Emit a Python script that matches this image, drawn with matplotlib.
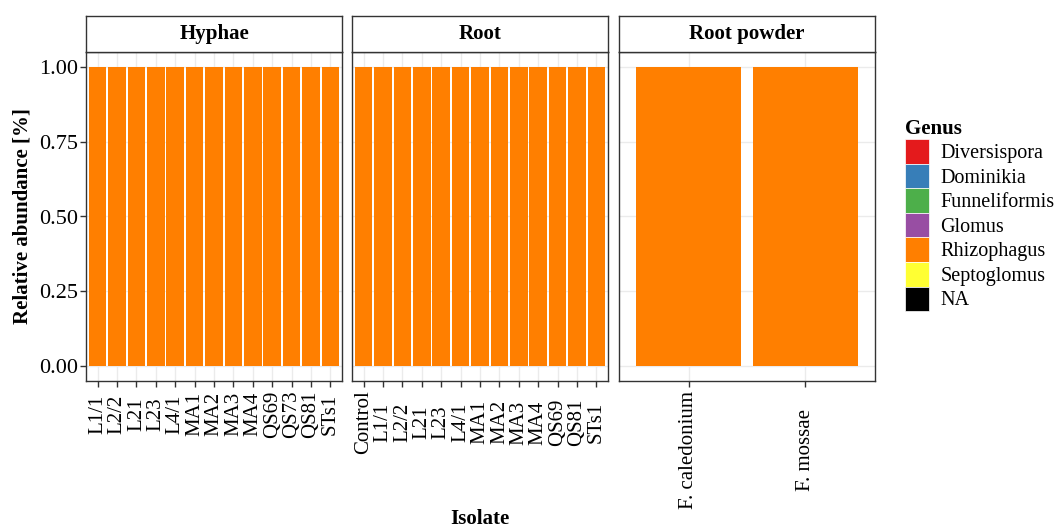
import matplotlib.pyplot as plt
import numpy as np
from matplotlib.patches import Patch

plt.rcParams['font.family'] = ['Liberation Serif', 'DejaVu Serif']

# isolates per sample type
hyphae_isolates = ["L1/1", "L2/2", "L21", "L23", "L4/1", "MA1", "MA2", "MA3",
                   "MA4", "QS69", "QS73", "QS81", "STs1"]
root_isolates = ["Control", "L1/1", "L2/2", "L21", "L23", "L4/1", "MA1", "MA2",
                 "MA3", "MA4", "QS69", "QS81", "STs1"]
powder_isolates = ["F. caledonium", "F. mossae"]

genera = ["Diversispora", "Dominikia", "Funneliformis", "Glomus",
          "Rhizophagus", "Septoglomus", "NA"]
genus_colors = ["#E41A1C", "#377EB8", "#4DAF4A", "#984EA3",
                "#FF7F00", "#FFFF33", "#000000"]

# relative abundance of Rhizophagus (all other genera are absent)
hyphae_rhizophagus = [1.0, 1.0, 1.0, 1.0, 1.0, 1.0, 1.0, 1.0, 1.0, 1.0, 1.0, 1.0, 1.0]
root_rhizophagus = [1.0, 1.0, 1.0, 1.0, 1.0, 1.0, 1.0, 1.0, 1.0, 1.0, 1.0, 1.0, 1.0]
powder_rhizophagus = [1.0, 1.0]

facets = [
    ("Hyphae", hyphae_isolates, hyphae_rhizophagus),
    ("Root", root_isolates, root_rhizophagus),
    ("Root powder", powder_isolates, powder_rhizophagus),
]

W, H = 1057, 529
fig = plt.figure(figsize=(W / 100, H / 100), dpi=100)

panel_left = [86, 352, 619]
panel_w = 256
panel_top, panel_bot = 52, 381
strip_top = 16
edge = "#333333"
tick_fs = 15

axes = []
for i, (name, isolates, rhizo) in enumerate(facets):
    ax = fig.add_axes([panel_left[i] / W, 1 - panel_bot / H,
                       panel_w / W, (panel_bot - panel_top) / H])
    x = np.arange(len(isolates))
    bottom = np.zeros(len(isolates))
    for g, c in zip(genera, genus_colors):
        vals = np.array(rhizo) if g == "Rhizophagus" else np.zeros(len(isolates))
        ax.bar(x, vals, width=0.9, bottom=bottom, color=c, linewidth=0, zorder=2)
        bottom += vals
    ax.set_xlim(-0.6, len(isolates) - 0.4)
    ax.set_ylim(-0.05, 1.05)
    ax.set_xticks(x)
    ax.set_xticklabels(isolates, rotation=90, fontsize=tick_fs)
    ax.set_yticks([0, 0.25, 0.5, 0.75, 1.0])
    ax.grid(True, color="#EBEBEB", linewidth=1.0, zorder=0)
    ax.set_axisbelow(True)
    ax.tick_params(axis="both", length=4, width=1, color=edge,
                   labelcolor="black", pad=2)
    if i == 0:
        ax.set_yticklabels(["0.00", "0.25", "0.50", "0.75", "1.00"], fontsize=16)
    else:
        ax.tick_params(axis="y", length=0, labelleft=False)
    for s in ax.spines.values():
        s.set_color(edge)
        s.set_linewidth(1.0)
    axes.append(ax)

    # facet strip
    sax = fig.add_axes([panel_left[i] / W, 1 - panel_top / H,
                        panel_w / W, (panel_top - strip_top) / H])
    sax.set_xticks([])
    sax.set_yticks([])
    for s in sax.spines.values():
        s.set_color(edge)
        s.set_linewidth(1.0)
    sax.text(0.5, 0.5, name, ha="center", va="center", fontsize=15,
             fontweight="bold", transform=sax.transAxes)

# center the rotated x labels within each panel's longest label
fig.canvas.draw()
renderer = fig.canvas.get_renderer()
for ax in axes:
    labels = ax.get_xticklabels()
    longest = max(t.get_window_extent(renderer).height for t in labels)
    for t in labels:
        t.set_va("center")
    ax.tick_params(axis="x", pad=(4 + longest / 2) * 0.72)

fig.text(23 / W, 1 - 216 / H, "Relative abundance [%]", rotation=90,
         ha="center", va="center", fontsize=15, fontweight="bold")
fig.text(480 / W, 1 - 519 / H, "Isolate", ha="center", va="center",
         fontsize=15, fontweight="bold")

handles = [Patch(facecolor=c, edgecolor="white", linewidth=0.5) for c in genus_colors]
leg = fig.legend(handles, genera, loc="upper left",
                 bbox_to_anchor=(891 / W, 1 - 105 / H), frameon=False,
                 fontsize=14.5, title="Genus", alignment="left",
                 title_fontproperties={"weight": "bold", "size": 15},
                 handlelength=1.2, handleheight=1.5, labelspacing=0.0,
                 handletextpad=0.55, borderpad=0.2)

fig.savefig("out.png", dpi=100)
